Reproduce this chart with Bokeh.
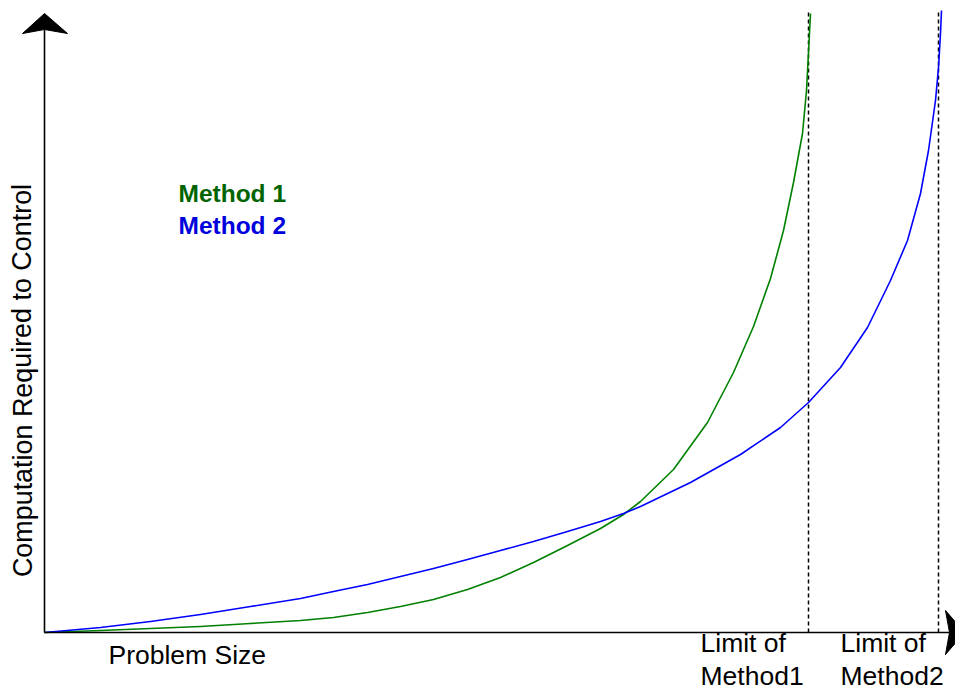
from bokeh.plotting import figure
from bokeh.models import Range1d, ColumnDataSource
from bokeh.core.properties import value
from bokeh.embed import file_html
from bokeh.resources import INLINE

# ---- data (problem size, computation), arbitrary units ----
method1_x = [0, 56, 106, 156, 206, 256, 289, 323, 356, 389, 423, 456, 489, 523, 556, 579, 596,
             629, 663, 689, 709, 726, 739, 749, 758, 762, 764, 766]
method1_y = [0, 2, 4, 6, 9, 12, 15, 20, 26, 33, 43, 55, 70, 87, 104, 118, 131,
             163, 210, 260, 306, 354, 402, 450, 499, 542, 580, 619]

method2_x = [0, 56, 106, 156, 206, 256, 289, 323, 356, 389, 423, 456, 489, 523, 556, 579, 596,
             646, 696, 736, 764, 796, 823, 846, 863, 876, 884, 891, 894, 896, 897]
method2_y = [0, 5, 11, 18, 26, 34, 41, 48, 56, 64, 73, 82, 91, 101, 111, 119, 126,
             150, 178, 205, 230, 265, 305, 352, 392, 439, 482, 532, 565, 599, 622]

limit_x = [764, 894]
limit_top = 620
limit_lines1 = ["Limit of", "Limit of"]
limit_lines2 = ["Method1", "Method2"]

legend_labels = ["Method 1", "Method 2"]
x_label = "Problem Size"
y_label = "Computation Required to Control"

# ---- figure ----
X0, X1 = -44, 911
Y0, Y1 = -59, 632
p = figure(width=955, height=691, output_backend="svg", toolbar_location=None,
           x_range=Range1d(X0, X1), y_range=Range1d(Y0, Y1),
           x_axis_type=None, y_axis_type=None, min_border=0)
p.outline_line_color = None
p.background_fill_color = "white"
p.border_fill_color = "white"

FONT = value("Liberation Sans")
GREEN_LINE = "#008000"
BLUE_LINE = "#0000ff"

# dashed limit lines
for lx in limit_x:
    p.line([lx, lx], [0, limit_top], line_color="black", line_width=1.5, line_dash="4 3")

# curves
p.line(method1_x, method1_y, line_color=GREEN_LINE, line_width=1.6, line_join="round")
p.line(method2_x, method2_y, line_color=BLUE_LINE, line_width=1.6, line_join="round")

# axes with arrowheads
y_axis_top = 603
x_axis_end = 905
p.line([0, 0], [0, y_axis_top], line_color="black", line_width=1.6)
p.line([0, x_axis_end], [0, 0], line_color="black", line_width=1.6)
p.patch([0, 23, 0, -22], [y_axis_top + 16, y_axis_top - 4, y_axis_top, y_axis_top - 4], color="black")
p.patch([x_axis_end + 15, x_axis_end - 4, x_axis_end, x_axis_end - 4], [0, 22, 0, -22], color="black")

# texts
p.text(x=[64], y=[-22], text=[x_label], text_font=FONT, text_font_size="26.5px",
       text_color="black", text_baseline="alphabetic", text_align="left")
p.text(x=[-22], y=[252], text=[y_label], text_font=FONT, text_font_size="26.9px",
       text_color="black", text_baseline="alphabetic", text_align="center", angle=1.5708)

lim_src = ColumnDataSource(dict(x=[656, 796], t1=limit_lines1, t2=limit_lines2))
p.text(x="x", y=-10, text="t1", source=lim_src, text_font=FONT, text_font_size="26.5px",
       text_color="black", text_baseline="alphabetic")
p.text(x="x", y=-43, text="t2", source=lim_src, text_font=FONT, text_font_size="26.5px",
       text_color="black", text_baseline="alphabetic")

p.text(x=[134], y=[439], text=[legend_labels[0]], text_font=FONT, text_font_size="24.5px",
       text_font_style="bold", text_color="#006400", text_baseline="alphabetic")
p.text(x=[134], y=[407], text=[legend_labels[1]], text_font=FONT, text_font_size="24.5px",
       text_font_style="bold", text_color="#0000dd", text_baseline="alphabetic")

open("out.html", "w").write(file_html(p, INLINE))
